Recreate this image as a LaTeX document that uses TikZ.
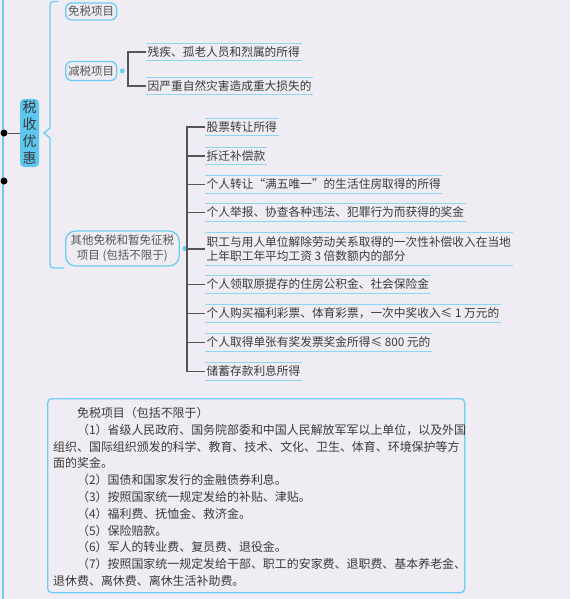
\documentclass[tikz,border=0pt]{standalone}
\usepackage{fontspec}
\newfontfamily\hei{Noto Sans CJK SC}
\newfontfamily\song{Noto Sans CJK SC}
\definecolor{bgc}{HTML}{EFEDF3}
\definecolor{blu}{HTML}{6ACDF4}
\definecolor{blufill}{HTML}{5DC7EF}
\definecolor{lineblue}{HTML}{8CD6F4}
\definecolor{gry}{HTML}{555555}
\definecolor{txt}{HTML}{3A3A3A}
\tikzset{
  cat/.style={draw=blu, line width=1.3pt, rounded corners=6pt, inner xsep=2.5pt, inner ysep=1pt,
    minimum height=17pt, font=\hei\fontsize{11.5}{14.5}\selectfont, text=gry, anchor=west},
  rootbox/.style={fill=blufill, rounded corners=4pt, minimum width=19pt, minimum height=68pt,
    inner sep=0pt, align=center, font=\hei\fontsize{14}{17}\selectfont, text=txt},
  blackdot/.style={circle, fill=black, minimum size=7pt, inner sep=0pt},
  bdot/.style={circle, fill=blu, minimum size=5pt, inner sep=0pt},
  leafline/.style={draw=lineblue, line width=1.3pt},
  leaf/.style={anchor=west, inner xsep=1.5pt, inner ysep=0pt, minimum height=17pt, align=left,
    font=\song\fontsize{11.7}{14}\selectfont, text=txt,
    append after command={(\tikzlastnode.north west) edge[leafline] (\tikzlastnode.north east)
                          (\tikzlastnode.south west) edge[leafline] (\tikzlastnode.south east)}},
  conn/.style={draw=gry, line width=1.2pt},
  brace/.style={draw=blu, line width=1.3pt},
}
\begin{document}
\begin{tikzpicture}[x=1pt,y=-1pt]
\fill[bgc] (0,0) rectangle (570,599);
\useasboundingbox (0,0) rectangle (570,599);
% main left line
\draw[brace] (3,0) -- (3,599);
\node[blackdot] (d1) at (4,133) {};
\node[blackdot] (d2) at (4,181) {};
\node[rootbox] (root) at (29.5,133) {税\\收\\优\\惠};
\draw[draw=gry, line width=0.8pt] (d1) -- (root.west);
% brace
\draw[brace] (58,1.5) .. controls (50,1.5) .. (50,9) -- (50,128) -- (44,133) -- (50,138) -- (50,260)
   .. controls (50,268) .. (58,268) -- (64,268);
% category nodes
\node[cat] (mian) at (65,11.5) {免税项目};
\node[cat, minimum height=19pt] (jian) at (65,71) {减税项目};
\node[cat, align=center, inner xsep=5pt, rounded corners=10pt, minimum height=35pt] (qita) at (65,248.5)
  {其他免税和暂免征税\\项目 (包括不限于)};
\node[bdot] (jd) at ([xshift=5pt]jian.east) {};
\node[bdot] (qd) at ([xshift=5pt]qita.east) {};
% reduced tax leaves
\node[leaf] (r1) at (146,52) {残疾、孤老人员和烈属的所得};
\node[leaf] (r2) at (146,86) {因严重自然灾害造成重大损失的};
\draw[conn] (r1.west) -- ++(-18,0) |- (r2.west);
% other leaves
\node[leaf] (l1) at (205,127) {股票转让所得};
\node[leaf] (l2) at (205,156) {拆迁补偿款};
\node[leaf] (l3) at (205,184.5) {个人转让“满五唯一”的生活住房取得的所得};
\node[leaf] (l4) at (205,212.5) {个人举报、协查各种违法、犯罪行为而获得的奖金};
\node[leaf, minimum height=32pt] (l5) at (205,249) {职工与用人单位解除劳动关系取得的一次性补偿收入在当地\\上年职工年平均工资 3 倍数额内的部分};
\node[leaf] (l6) at (205,284.5) {个人领取原提存的住房公积金、社会保险金};
\node[leaf] (l7) at (205,313.5) {个人购买福利彩票、体育彩票，一次中奖收入≤ 1 万元的};
\node[leaf] (l8) at (205,342.5) {个人取得单张有奖发票奖金所得≤ 800 元的};
\node[leaf] (l9) at (205,371.5) {储蓄存款利息所得};
\draw[conn] (l1.west) -- ++(-18,0) |- (l9.west);
\foreach \n in {l2,l3,l4,l5,l6,l7,l8} \draw[conn] (\n.west) -- ++(-18,0);
% bottom box
\node[draw=blu, line width=1.3pt, rounded corners=4pt, minimum width=417pt, minimum height=194pt,
  anchor=north west, inner sep=0pt] (box) at (47,398) {};
\node[anchor=north west, inner sep=0pt, align=left, text=txt,
  font=\song\fontsize{11.95}{16.8}\selectfont] (boxtxt) at (53,407) {%
\hspace*{2em}免税项目（包括不限于）\\
\hspace*{2em}（1）省级人民政府、国务院部委和中国人民解放军军以上单位，以及外国\\
组织、国际组织颁发的科学、教育、技术、文化、卫生、体育、环境保护等方\\
面的奖金。\\
\hspace*{2em}（2）国债和国家发行的金融债券利息。\\
\hspace*{2em}（3）按照国家统一规定发给的补贴、津贴。\\
\hspace*{2em}（4）福利费、抚恤金、救济金。\\
\hspace*{2em}（5）保险赔款。\\
\hspace*{2em}（6）军人的转业费、复员费、退役金。\\
\hspace*{2em}（7）按照国家统一规定发给干部、职工的安家费、退职费、基本养老金、\\
退休费、离休费、离休生活补助费。};
\end{tikzpicture}
\end{document}
